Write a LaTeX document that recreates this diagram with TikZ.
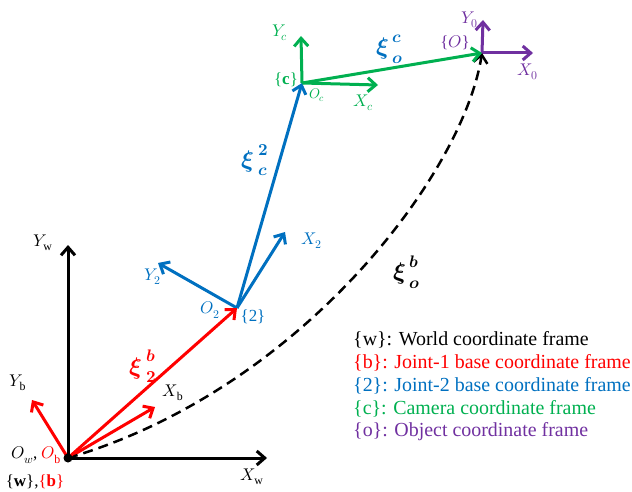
\documentclass[tikz,border=0pt]{standalone}
\usepackage{amsmath}
\usepackage{fontspec}
\usepackage{unicode-math}
\setmainfont{Liberation Serif}
\setmathfont{Latin Modern Math}
\usetikzlibrary{arrows.meta}
\definecolor{red}{HTML}{FF0000}
\definecolor{blue}{HTML}{0070C0}
\definecolor{green}{HTML}{00B050}
\definecolor{purple}{HTML}{7030A0}
\newcommand{\bxi}{{\symbfit{\xi}\mkern3mu}}

\begin{document}
\begin{tikzpicture}[x=1bp,y=-1bp,
    axis/.style={line width=3bp,-{Straight Barb[length=8bp,width=14bp]}},
    lab/.style={inner sep=0pt,font=\fontsize{17}{19}\selectfont},
    xi/.style={inner sep=0pt,font=\fontsize{24}{26}\selectfont},
    legend/.style={inner sep=0pt,anchor=west,font=\fontsize{20}{23}\selectfont}]
  \useasboundingbox (0,0) rectangle (632,492);
  \coordinate (ow) at (68,458);
  \coordinate (o2) at (237,308);
  \coordinate (oc) at (302,83);
  \coordinate (oo) at (482,53);
  \coordinate (xw) at (267,458);
  \coordinate (yw) at (68,245);
  \coordinate (xb) at (155,407);
  \coordinate (yb) at (32,400);
  \coordinate (x2) at (285,232);
  \coordinate (y2) at (158,263);
  \coordinate (xc) at (378,85);
  \coordinate (yc) at (301,36);
  \coordinate (xo) at (533,53);
  \coordinate (yo) at (483,20);
  \draw[axis] (ow) -- (xw);
  \draw[axis] (ow) -- (yw);
  \draw[axis,red] (ow) -- (xb);
  \draw[axis,red] (ow) -- (yb);
  \draw[axis,blue] (o2) -- (x2);
  \draw[axis,blue] (o2) -- (y2);
  \draw[axis,green] (oc) -- (xc);
  \draw[axis,green] (oc) -- (yc);
  \draw[axis,purple] (oo) -- (xo);
  \draw[axis,purple] (oo) -- (yo);
  \draw[axis,line width=2.5bp,dash pattern=on 10bp off 6bp] (ow) .. controls (300,390) and (463,175) .. (oo);
  \draw[axis,red] (ow) -- (o2);
  \draw[axis,blue] (o2) -- (oc);
  \draw[axis,green] (oc) -- (oo);
  \fill (ow) circle (4.5bp);
  \node[lab] (lxw) at (252,477) {$X_{\mathrm{w}}$};
  \node[lab] (lyw) at (43,243) {$Y_{\mathrm{w}}$};
  \node[lab] (lyb) at (18,383) {$Y_{\mathrm{b}}$};
  \node[lab] (lxb) at (173,393) {$X_{\mathrm{b}}$};
  \node[lab,text=blue] (ly2) at (153,277) {$Y_2$};
  \node[lab,text=blue] (lx2) at (312,241) {$X_2$};
  \node[lab,text=blue] (lo2) at (210,310) {$O_2$};
  \node[lab,text=blue] (l2) at (253,317) {\{2\}};
  \node[lab,text=green] (lyc) at (280,33) {$Y_c$};
  \node[lab,text=green] (lxc) at (363,103) {$X_c$};
  \node[lab,text=green,font=\fontsize{14}{16}\selectfont] (loc) at (317,95) {$O_c$};
  \node[lab,text=green] (lc) at (286,80) {\{\textbf{c}\}};
  \node[lab,text=purple] (lyo) at (470,20) {$Y_0$};
  \node[lab,text=purple] (lxo) at (528,72) {$X_0$};
  \node[lab,text=purple] (lo) at (455,43) {\{$O$\}};
  \node[xi,text=red] (xi2b) at (143,366) {$\bxi_{\symbf{2}}^{\symbfit{b}}$};
  \node[xi,text=blue] (xic2) at (255,160) {$\bxi_{\symbfit{c}}^{\symbf{2}}$};
  \node[xi,text=blue] (xioc) at (390,49) {$\bxi_{\symbfit{o}}^{\symbfit{c}}$};
  \node[xi] (xiob) at (407,272) {$\bxi_{\symbfit{o}}^{\symbfit{b}}$};
  \node[lab] (low) at (36,455) {$O_w$, \textcolor{red}{$O_{\mathrm{b}}$}};
  \node[lab] (lwb) at (35,482) {\{\textbf{w}\},\textcolor{red}{\{\textbf{b}\}}};
  \foreach \col/\key/\txt [count=\i] in {black/w/World, red/b/Joint-1 base, blue/2/Joint-2 base, green/c/Camera, purple/o/Object}{
    \node[legend,text=\col] (leg\i) at (353,{317+23*\i}) {\{\key\}: \txt\ coordinate frame};}
\end{tikzpicture}
\end{document}
